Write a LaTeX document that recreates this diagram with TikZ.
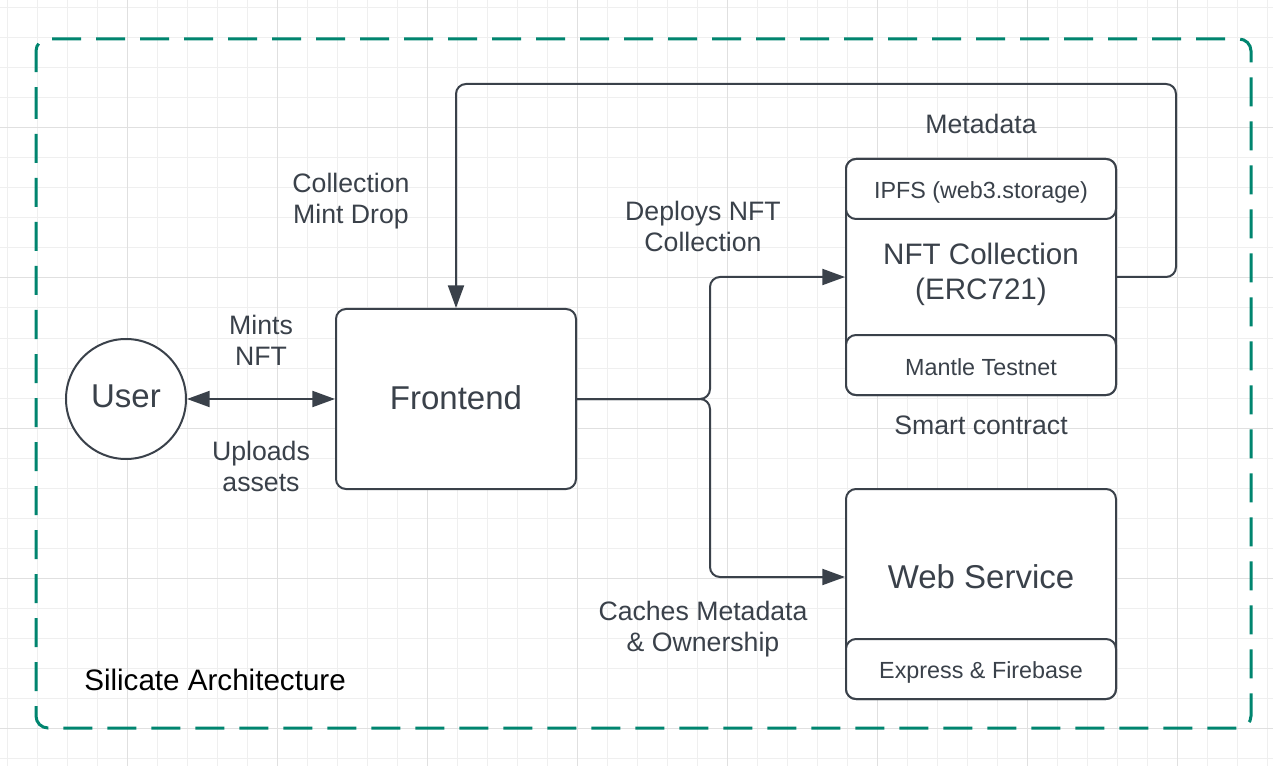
\documentclass[tikz,border=0pt]{standalone}
\usepackage{fontspec}
\setmainfont{Liberation Sans}
\usetikzlibrary{arrows.meta}
\definecolor{ink}{HTML}{3A414A}
\definecolor{teal}{HTML}{00856F}
\definecolor{gridminor}{HTML}{EFEFEF}
\definecolor{gridmajor}{HTML}{E0E0E0}
\tikzset{
  box/.style={draw=ink, line width=1.5pt, rounded corners=7.5pt, fill=white, inner sep=0pt},
  lbl/.style={text=ink, inner sep=0pt, align=center, font=\fontsize{20pt}{23.25pt}\selectfont},
  big/.style={text=ink, inner sep=0pt, align=center, font=\fontsize{24.75pt}{28pt}\selectfont},
  small/.style={text=ink, inner sep=0pt, align=center, font=\fontsize{17.5pt}{20pt}\selectfont},
  conn/.style={draw=ink, line width=1.5pt, rounded corners=7.5pt, -{Triangle[length=17pt,width=12pt]}},
}
\begin{document}
\begin{tikzpicture}[x=0.75pt, y=-0.75pt]
\useasboundingbox (0,0) rectangle (1273,766);
\fill[white] (0,0) rectangle (1273,766);
% grid
\foreach \k in {0,...,42} {\draw[gridminor, line width=0.75pt] ({7+30*\k},0) -- ({7+30*\k},766);}
\foreach \k in {0,...,25} {\draw[gridminor, line width=0.75pt] (0,{8+30*\k}) -- (1273,{8+30*\k});}
\foreach \k in {0,...,7} {\draw[gridmajor, line width=0.75pt] ({127+150*\k},0) -- ({127+150*\k},766);}
\foreach \k in {0,...,4} {\draw[gridmajor, line width=0.75pt] (0,{128+150*\k}) -- (1273,{128+150*\k});}
% dashed boundary
\draw[teal, line width=2.25pt, dash pattern=on 21.75pt off 11.25pt, rounded corners=9pt]
  (36,78) -- (36,728) -- (1251,728) -- (1251,39) -- (36,39) -- cycle;
\node[anchor=west, inner sep=0pt, text=black, font=\fontsize{22.2pt}{26pt}\selectfont] (title) at (84,680) {Silicate Architecture};

% nodes
\node[circle, draw=ink, line width=1.5pt, fill=white, minimum size=90pt, inner sep=0pt] (user) at (126,399) {};
\node[big] (usertext) at (126,396) {User};
\node[box, minimum width=180pt, minimum height=135pt] (front) at (456,399) {};
\node[big] (fronttext) at (456,398) {Frontend};

\node[box, minimum width=202.5pt, minimum height=177pt] (nft) at (981,277) {};
\node[box, minimum width=202.5pt, minimum height=45pt] (ipfs) at (981,189) {};
\node[small] (ipfstext) at (981,192) {IPFS (web3.storage)};
\node[box, minimum width=202.5pt, minimum height=45pt] (mantle) at (981,365) {};
\node[small] (mantletext) at (981,367) {Mantle Testnet};
\node[text=ink, inner sep=0pt, align=center, font=\fontsize{22.2pt}{26.25pt}\selectfont] (nfttext) at (981,274) {NFT Collection\\(ERC721)};

\node[box, minimum width=202.5pt, minimum height=157.5pt] (ws) at (981,594) {};
\node[box, minimum width=202.5pt, minimum height=45pt] (express) at (981,669) {};
\node[small] (expresstext) at (981,672) {Express \& Firebase};
\node[big] (wstext) at (981,577) {Web Service};

% labels
\node[lbl] (l1) at (351,201) {Collection\\Mint Drop};
\node[lbl] (l2) at (261,340) {Mints\\NFT};
\node[lbl] (l3) at (261,466) {Uploads\\assets};
\node[lbl] (l4) at (703,226) {Deploys NFT\\Collection};
\node[lbl] (l5) at (981,124) {Metadata};
\node[lbl] (l6) at (981,425) {Smart contract};
\node[lbl] (l7) at (703,629) {Caches Metadata\\\& Ownership};

% connectors
\coordinate (split) at (710,399);
\draw[draw=ink, line width=1.5pt, {Triangle[length=17pt,width=12pt]}-{Triangle[length=17pt,width=12pt]}] (user.east) -- (front.west);
\draw[conn] (front.east) -- (split) -- (split |- nft.west) -- (nft.west);
\draw[conn] (front.east) -- (split) -- (split |- wstext) -- (ws.west |- wstext);
\coordinate (fbr) at (1176,84);
\draw[conn] (nft.east) -- (nft.east -| fbr) -- (fbr) -- (fbr -| front.north) -- (front.north);
\end{tikzpicture}
\end{document}
